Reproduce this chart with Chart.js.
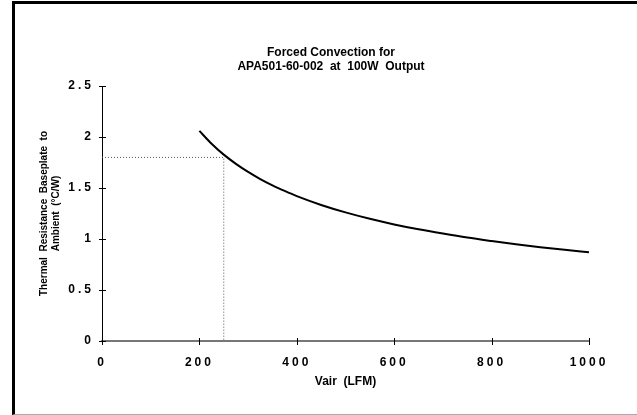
<!DOCTYPE html>
<html>
<head>
<meta charset="utf-8">
<script src="https://cdn.jsdelivr.net/npm/chart.js@4.4.1/dist/chart.umd.min.js"></script>
<style>
  html, body { margin: 0; padding: 0; background: #fff; overflow: hidden; }
  #wrap { position: relative; width: 637px; height: 415px; overflow: hidden; }
  #frame {
    position: absolute; left: 12px; top: 1px; width: 640px; height: 410px;
    border-top: 3px solid #000; border-left: 3px solid #000;
    border-bottom: 1px solid #aaa; pointer-events: none;
  }
  canvas { position: absolute; left: 0; top: 0; }
</style>
</head>
<body>
<div id="wrap">
  <canvas id="chart" width="637" height="415"></canvas>
  <div id="frame"></div>
</div>
<script>
// values
const vair = [200, 225, 250, 275, 300, 325, 350, 375, 400, 450, 500, 550, 600, 650, 700, 750, 800, 850, 900, 950, 1000];
const resistance = [2.06, 1.934, 1.827, 1.737, 1.658, 1.588, 1.526, 1.471, 1.42, 1.334, 1.261, 1.198, 1.143, 1.095, 1.053, 1.014, 0.98, 0.948, 0.92, 0.894, 0.87];

// dotted reference at 250 LFM
const refX = [0, 250, 250];
const refY = [1.8, 1.8, 0];

const titleLines = ['Forced Convection for', 'APA501-60-002  at  100W  Output'];
const yTitle = ['Thermal  Resistance  Baseplate  to', 'Ambient  (\u00B0C/W)'];
const xTitle = 'Vair  (LFM)';

const FONT = "'Liberation Sans', Arial, sans-serif";

const crossTicks = {
  id: 'crossTicks',
  afterDatasetsDraw(chart) {
    const ctx = chart.ctx;
    const { x, y } = chart.scales;
    ctx.save();
    ctx.strokeStyle = '#000';
    ctx.lineWidth = 1;
    ctx.beginPath();
    x.ticks.forEach(t => {
      const px = Math.round(x.getPixelForValue(t.value)) + 0.5;
      ctx.moveTo(px, y.bottom - 3);
      ctx.lineTo(px, y.bottom + 4);
    });
    y.ticks.forEach(t => {
      const py = Math.round(y.getPixelForValue(t.value)) + 0.5;
      ctx.moveTo(x.left - 3, py);
      ctx.lineTo(x.left + 4, py);
    });
    ctx.stroke();
    ctx.restore();
    // tick labels are drawn after this with wider spacing
    ctx.letterSpacing = '3px';
  },
  afterDraw(chart) {
    const ctx = chart.ctx;
    ctx.letterSpacing = '0px';
    ctx.save();
    ctx.fillStyle = '#000';
    ctx.font = 'bold 12px ' + FONT;
    ctx.textAlign = 'center';
    ctx.textBaseline = 'middle';
    ctx.fillText(titleLines[0], 331, 53);
    ctx.fillText(titleLines[1], 331, 67);
    ctx.restore();
  }
};

new Chart(document.getElementById('chart'), {
  type: 'scatter',
  data: {
    datasets: [{
      data: vair.map((v, i) => ({ x: v, y: resistance[i] })),
      showLine: true,
      borderColor: '#000',
      borderWidth: 2,
      pointRadius: 0,
      cubicInterpolationMode: 'monotone',
    }, {
      data: refX.map((v, i) => ({ x: v, y: refY[i] })),
      showLine: true,
      borderColor: '#555',
      borderWidth: 1,
      borderDash: [1, 2],
      pointRadius: 0,
    }],
  },
  options: {
    responsive: false,
    animation: false,
    layout: { padding: { left: 0, right: 48, top: 86, bottom: 24 } },
    plugins: {
      legend: { display: false },
      title: { display: false },
      tooltip: { enabled: false },
    },
    scales: {
      x: {
        type: 'linear',
        min: 0,
        max: 1000,
        afterFit: s => { s.height = 50; },
        ticks: {
          stepSize: 200,
          padding: 14,
          color: '#000',
          z: 1,
          callback: v => String(v),
          font: { family: FONT, size: 12, weight: 'bold' },
        },
        grid: { display: true, drawOnChartArea: false, drawTicks: false },
        border: { color: '#777', width: 2 },
        title: {
          display: true,
          text: xTitle,
          color: '#000',
          padding: { top: 0, bottom: 2 },
          font: { family: FONT, size: 12, weight: 'bold' },
        },
      },
      y: {
        min: 0,
        max: 2.5,
        afterFit: s => { s.width = 102; },
        ticks: {
          stepSize: 0.5,
          padding: 8,
          color: '#000',
          z: 1,
          callback: v => String(v),
          font: { family: FONT, size: 12, weight: 'bold' },
        },
        grid: { display: true, drawOnChartArea: false, drawTicks: false },
        border: { color: '#000', width: 1 },
        title: {
          display: true,
          text: yTitle,
          color: '#000',
          padding: { top: 38, bottom: 0 },
          font: { family: FONT, size: 10, weight: 'bold' },
        },
      },
    },
  },
  plugins: [crossTicks],
});
</script>
</body>
</html>
